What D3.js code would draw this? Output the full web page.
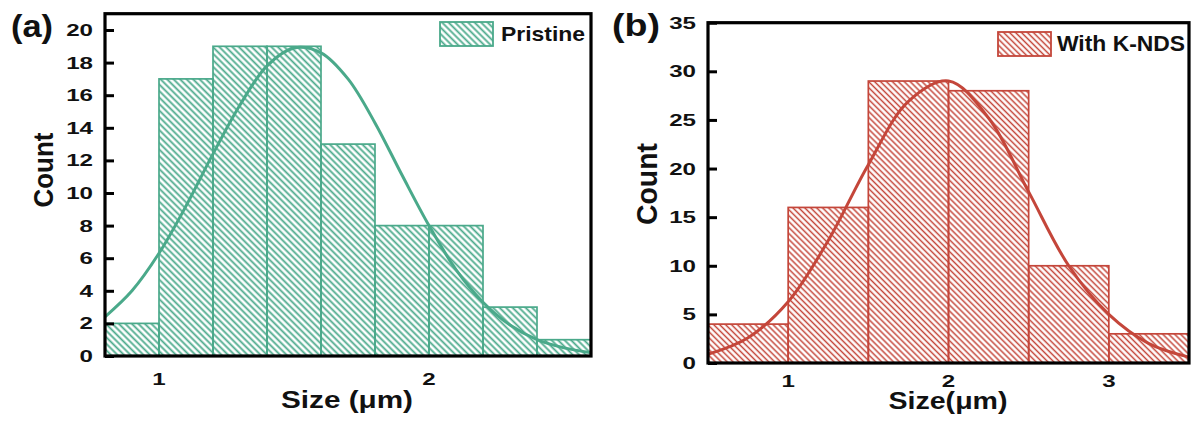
<!DOCTYPE html>
<html>
<head>
<meta charset="utf-8">
<script src="https://cdn.jsdelivr.net/npm/d3@7"></script>
<style>
  body { margin: 0; background: #fff; }
  text { font-family: "Liberation Sans", Arial, sans-serif; font-weight: bold; fill: #111; }
</style>
</head>
<body>
<script>
// ---- panel (a): pristine ----
const binsA = [0.8, 1.0, 1.2, 1.4, 1.6, 1.8, 2.0, 2.2, 2.4, 2.6];
const countsA = [2, 17, 19, 19, 13, 8, 8, 3, 1];
const fitXA = [0.8, 0.9, 1.0, 1.1, 1.2, 1.3, 1.4, 1.5, 1.6, 1.7, 1.8, 1.9, 2.0, 2.1, 2.2, 2.3, 2.4, 2.5, 2.6];
const fitYA = [2.4, 4.0, 6.3, 9.2, 12.4, 15.4, 17.8, 18.9, 18.6, 17.0, 14.3, 11.1, 8.0, 5.3, 3.3, 1.9, 1.0, 0.5, 0.2];
const yTicksA = [0, 2, 4, 6, 8, 10, 12, 14, 16, 18, 20];
const xTicksA = [1, 2];

// ---- panel (b): with K-NDS ----
const binsB = [0.5, 1.0, 1.5, 2.0, 2.5, 3.0, 3.5];
const countsB = [4, 16, 29, 28, 10, 3];
const fitXB = [0.5, 0.75, 1.0, 1.25, 1.5, 1.75, 2.0, 2.25, 2.5, 2.75, 3.0, 3.25, 3.5];
const fitYB = [0.9, 2.6, 6.3, 12.6, 20.4, 26.9, 29.0, 25.2, 17.6, 10.0, 5.0, 2.0, 0.6];
const yTicksB = [0, 5, 10, 15, 20, 25, 30, 35];
const xTicksB = [1, 2, 3];

const svg = d3.select("body").append("svg")
  .attr("width", 1193)
  .attr("height", 432);
const defs = svg.append("defs");

function hatch(id, color, sp, lw) {
  defs.append("pattern")
    .attr("id", id)
    .attr("patternUnits", "userSpaceOnUse")
    .attr("width", sp).attr("height", sp)
    .attr("patternTransform", "rotate(-45)")
    .append("line")
    .attr("x1", sp / 2).attr("y1", -1)
    .attr("x2", sp / 2).attr("y2", sp + 1)
    .attr("stroke", color)
    .attr("stroke-width", lw);
}

function panel(p) {
  const x = d3.scaleLinear().domain(p.xDomain).range([p.left, p.right]);
  const y = d3.scaleLinear().domain(p.yDomain).range([p.bottom, p.top]);
  const g = svg.append("g");
  hatch(p.id, p.color, p.sp, p.lw);

  // bars
  const bars = p.counts.map((c, i) => ({ x0: p.bins[i], x1: p.bins[i + 1], c }));
  g.selectAll("rect.bar")
    .data(bars)
    .join("rect")
    .attr("class", "bar")
    .attr("x", d => x(d.x0))
    .attr("width", d => x(d.x1) - x(d.x0))
    .attr("y", d => y(d.c))
    .attr("height", d => y(0) - y(d.c))
    .attr("fill", `url(#${p.id})`)
    .attr("stroke", p.color)
    .attr("stroke-width", 1.7);

  // fitted curve
  const line = d3.line()
    .x((d, i) => x(p.fitX[i]))
    .y(d => y(d))
    .curve(d3.curveCatmullRom);
  g.append("path")
    .datum(p.fitY)
    .attr("d", line)
    .attr("fill", "none")
    .attr("stroke", p.color)
    .attr("stroke-width", 3);

  // y ticks pointing inward
  const ya = g.append("g")
    .attr("transform", `translate(${p.left},0)`)
    .call(d3.axisLeft(y).tickValues(p.yTicks).tickSize(-9).tickPadding(0).tickFormat(""));
  ya.select(".domain").remove();
  ya.selectAll("line").attr("stroke", "#000").attr("stroke-width", 3);

  // y tick labels (wide bold digits)
  g.selectAll("text.ytl")
    .data(p.yTicks)
    .join("text")
    .attr("class", "ytl")
    .attr("transform", d => `translate(${p.left - 12},${y(d) + 6}) scale(1.42,1)`)
    .attr("text-anchor", "end")
    .attr("font-size", 17)
    .text(d => d);

  // x tick labels
  g.selectAll("text.xtl")
    .data(p.xTicks)
    .join("text")
    .attr("class", "xtl")
    .attr("transform", d => `translate(${x(d)},${p.bottom + p.xlOff}) scale(1.42,1)`)
    .attr("text-anchor", "middle")
    .attr("font-size", 17)
    .text(d => d);

  // frame
  g.append("rect")
    .attr("x", p.left).attr("y", p.top)
    .attr("width", p.right - p.left).attr("height", p.bottom - p.top)
    .attr("fill", "none")
    .attr("stroke", "#000")
    .attr("stroke-width", 3.2);

  // legend
  g.append("rect")
    .attr("x", p.leg.x).attr("y", p.leg.y)
    .attr("width", 53).attr("height", 24)
    .attr("fill", `url(#${p.id})`)
    .attr("stroke", p.color)
    .attr("stroke-width", 1.8);
  g.append("text")
    .attr("x", p.leg.tx).attr("y", p.leg.ty)
    .attr("font-size", p.leg.fs)
    .attr("textLength", p.leg.tw)
    .attr("lengthAdjust", "spacingAndGlyphs")
    .text(p.name);

  // axis titles
  g.append("text")
    .attr("x", p.xt.x).attr("y", p.xt.y)
    .attr("text-anchor", "middle")
    .attr("font-size", 23)
    .attr("textLength", p.xt.w)
    .attr("lengthAdjust", "spacingAndGlyphs")
    .text(p.xTitle);
  g.append("text")
    .attr("transform", `translate(${p.yt.x},${p.yt.y}) rotate(-90)`)
    .attr("text-anchor", "middle")
    .attr("font-size", p.yt.fs)
    .attr("textLength", p.yt.w)
    .attr("lengthAdjust", "spacingAndGlyphs")
    .text("Count");

  // panel letter
  g.append("text")
    .attr("x", p.tag.x).attr("y", p.tag.y)
    .attr("font-size", 31)
    .attr("textLength", p.tag.w)
    .attr("lengthAdjust", "spacingAndGlyphs")
    .text(p.tag.t);
}

panel({
  id: "hatchA", color: "#4aa98a", sp: 4.6, lw: 1.8,
  bins: binsA, counts: countsA, fitX: fitXA, fitY: fitYA,
  yTicks: yTicksA, xTicks: xTicksA,
  xDomain: [0.8, 2.6], yDomain: [0, 21],
  left: 105, right: 591, top: 13.7, bottom: 356, xlOff: 29,
  name: "Pristine", leg: { x: 440, y: 22, tx: 501, ty: 41, fs: 21, tw: 84 },
  xTitle: "Size (\u03bcm)", xt: { x: 347, y: 408, w: 132 },
  yt: { x: 53, y: 170, fs: 27, w: 75 },
  tag: { x: 11, y: 37, w: 42, t: "(a)" }
});

panel({
  id: "hatchB", color: "#c4463a", sp: 4.2, lw: 1.5,
  bins: binsB, counts: countsB, fitX: fitXB, fitY: fitYB,
  yTicks: yTicksB, xTicks: xTicksB,
  xDomain: [0.5, 3.5], yDomain: [0, 35],
  left: 708, right: 1189, top: 22.7, bottom: 363, xlOff: 24,
  name: "With K-NDS", leg: { x: 998, y: 32, tx: 1057, ty: 51, fs: 22, tw: 128 },
  xTitle: "Size(\u03bcm)", xt: { x: 948, y: 409, w: 119 },
  yt: { x: 657, y: 184, fs: 29, w: 82 },
  tag: { x: 612, y: 36, w: 48, t: "(b)" }
});
</script>
</body>
</html>
